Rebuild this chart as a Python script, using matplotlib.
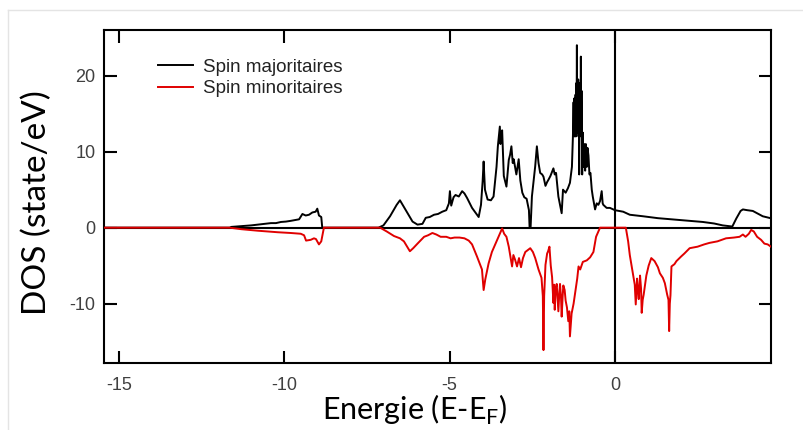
import numpy as np
import matplotlib
matplotlib.use("Agg")
import matplotlib.pyplot as plt
from matplotlib.lines import Line2D

plt.rcParams["axes.unicode_minus"] = False

# Spin majoritaires (E - E_F, DOS)
maj_e = [-15.5, -11.65, -11.6, -11.0, -10.4, -10.25, -10.1, -9.95, -9.8, -9.55, -9.45,
         -9.35, -9.25, -9.15, -9.05, -9.0, -8.95, -8.88, -8.85, -7.15, -7.0, -6.8,
         -6.6, -6.5, -6.35, -6.12, -5.97, -5.82, -5.72, -5.6, -5.47, -5.35, -5.22,
         -5.1, -5.02, -4.99, -4.95, -4.88, -4.82, -4.72, -4.62, -4.55, -4.47, -4.32,
         -4.12, -4.05, -4.0, -3.97, -3.93, -3.85, -3.75, -3.67, -3.58, -3.54, -3.5,
         -3.48, -3.46, -3.44, -3.41, -3.38, -3.36, -3.28, -3.21, -3.17, -3.13, -3.09,
         -3.06, -3.0, -2.98, -2.91, -2.86, -2.8, -2.74, -2.67, -2.6, -2.58, -2.55,
         -2.51, -2.41, -2.36, -2.31, -2.26, -2.2, -2.16, -2.1, -2.05, -2.01, -1.95,
         -1.86, -1.82, -1.78, -1.71, -1.61, -1.57, -1.49, -1.42, -1.36, -1.3, -1.27,
         -1.25, -1.24, -1.23, -1.22, -1.21, -1.2, -1.19, -1.18, -1.17, -1.16, -1.15,
         -1.14, -1.13, -1.12, -1.11, -1.1, -1.09, -1.08, -1.07, -1.06, -1.05, -1.04,
         -1.03, -1.02, -1.01, -1.0, -0.99, -0.97, -0.95, -0.93, -0.9, -0.88, -0.85,
         -0.83, -0.8, -0.77, -0.74, -0.7, -0.67, -0.6, -0.55, -0.5, -0.45, -0.4, -0.37,
         -0.35, -0.25, -0.15, 0.0, 0.25, 0.45, 0.65, 0.85, 1.3, 1.86, 2.3, 2.66,
         3.0, 3.26, 3.55, 3.67, 3.8, 3.87, 4.0, 4.17, 4.3, 4.47, 4.75]
maj_dos = [0, 0, 0.1, 0.3, 0.6, 0.6, 0.75, 0.8, 0.9, 1.1, 1.8,
           1.6, 1.7, 2.0, 2.1, 2.5, 1.6, 1.4, 0, 0, 0.3, 1.5,
           3.0, 3.6, 2.5, 0.8, 0.4, 0.5, 1.3, 1.4, 1.7, 1.8, 2.1,
           2.3, 3.2, 4.8, 2.9, 4.0, 4.3, 4.1, 4.8, 4.5, 3.9, 2.6,
           1.4, 3.0, 6.1, 8.7, 5.0, 3.7, 3.6, 4.1, 8.0, 10.7, 12.5,
           13.3, 11.0, 12.0, 12.8, 9.0, 6.8, 5.4, 8.9, 9.6, 10.7, 8.5,
           9.0, 7.5, 7.0, 9.0, 6.2, 4.6, 4.0, 3.8, 2.3, 0, 0,
           4.1, 8.1, 10.7, 8.5, 7.2, 7.0, 6.7, 5.5, 6.0, 6.3, 6.8,
           7.8, 7.0, 7.2, 4.1, 1.9, 5.0, 4.6, 5.2, 5.9, 8.0, 12.0,
           16.5, 12.5, 17.0, 12.0, 16.5, 12.5, 17.5, 12.0, 19.0, 13.0, 24.0,
           12.5, 19.0, 13.0, 19.5, 12.0, 19.0, 7.0, 19.0, 12.5, 19.0, 13.0,
           22.5, 12.0, 18.0, 12.0, 7.0, 12.5, 8.0, 11.0, 7.5, 11.0, 8.0,
           10.5, 9.5, 7.0, 7.2, 5.0, 4.1, 2.4, 3.2, 3.0, 3.5, 4.8, 3.2,
           3.0, 2.6, 2.6, 2.3, 2.1, 1.7, 1.6, 1.5, 1.25, 1.05, 0.9, 0.75,
           0.55, 0.3, 0.15, 1.2, 2.2, 2.4, 2.3, 2.2, 1.9, 1.5, 1.2]

# Spin minoritaires
min_e = [-15.5, -11.65, -11.3, -10.8, -10.2, -9.8, -9.5, -9.4, -9.34, -9.2, -9.1,
         -9.04, -8.95, -8.88, -8.8, -7.1, -6.9, -6.68, -6.5, -6.38, -6.2, -6.1,
         -5.97, -5.77, -5.65, -5.52, -5.4, -5.27, -5.1, -4.97, -4.85, -4.7, -4.55,
         -4.42, -4.32, -4.17, -4.02, -3.97, -3.92, -3.82, -3.72, -3.61, -3.5, -3.41,
         -3.35, -3.28, -3.21, -3.11, -3.07, -3.02, -2.96, -2.9, -2.84, -2.78, -2.71,
         -2.62, -2.56, -2.48, -2.41, -2.31, -2.22, -2.18, -2.16, -2.14, -2.1, -2.05,
         -2.02, -1.98, -1.94, -1.9, -1.86, -1.84, -1.82, -1.79, -1.76, -1.73, -1.71,
         -1.68, -1.66, -1.63, -1.61, -1.58, -1.56, -1.52, -1.49, -1.45, -1.41, -1.38,
         -1.36, -1.33, -1.31, -1.25, -1.2, -1.14, -1.1, -1.05, -0.97, -0.85, -0.75,
         -0.65, -0.57, -0.45, 0.33, 0.4, 0.45, 0.55, 0.6, 0.63, 0.67, 0.7, 0.72,
         0.76, 0.79, 0.81, 0.84, 0.87, 0.95, 1.02, 1.1, 1.2, 1.3, 1.36, 1.45, 1.51,
         1.58, 1.62, 1.64, 1.66, 1.68, 1.71, 1.8, 1.86, 2.0, 2.1, 2.26, 2.5, 2.7,
         2.86, 3.1, 3.36, 3.6, 3.77, 3.87, 3.95, 4.05, 4.12, 4.2, 4.3, 4.42, 4.52,
         4.62, 4.75]
min_dos = [0, 0, -0.2, -0.4, -0.6, -0.7, -0.8, -1.0, -1.7, -1.6, -1.4,
           -1.5, -2.2, -1.8, 0, 0, -0.5, -1.1, -1.4, -1.8, -3.1, -2.7,
           -2.1, -1.2, -1.0, -0.7, -0.9, -1.2, -1.2, -1.4, -1.3, -1.3, -1.4,
           -1.7, -2.2, -3.8, -5.5, -8.2, -6.8, -4.7, -3.2, -2.1, -1.0, -0.1,
           -0.8, -1.2, -2.5, -5.1, -3.6, -4.2, -5.1, -4.0, -5.2, -4.0, -3.2,
           -2.9, -2.7, -3.2, -4.0, -5.5, -6.6, -9.0, -16.1, -9.0, -4.9, -3.4,
           -3.1, -2.5, -5.0, -6.5, -9.9, -7.5, -10.8, -8.0, -7.4, -9.5, -11.0,
           -8.5, -7.4, -9.2, -11.7, -9.0, -7.6, -8.2, -9.6, -10.5, -12.3, -11.0,
           -14.3, -12.5, -11.3, -10.0, -8.5, -6.7, -5.1, -5.5, -4.5, -4.3, -3.9,
           -3.2, -1.2, 0, 0, -1.8, -3.6, -6.2, -7.5, -10.1, -6.7, -8.5, -9.4,
           -6.3, -8.0, -11.2, -9.5, -8.8, -6.3, -5.0, -4.0, -4.4, -5.2, -6.0, -6.6, -7.3,
           -8.8, -9.5, -13.6, -10.0, -8.9, -5.1, -4.8, -4.4, -3.8, -3.4, -2.7, -2.5, -2.2,
           -2.0, -1.8, -1.4, -1.3, -1.2, -0.9, -1.2, -0.8, -0.3, -0.5, -1.2, -1.6, -2.1,
           -2.2, -2.6]

xticks = [-15, -10, -5, 0]
yticks = [-10, 0, 10, 20]

fig = plt.figure(figsize=(8.04, 4.30), dpi=100)
ax = fig.add_axes([104 / 804, 67 / 430, 667 / 804, 333 / 430])

ax.axhline(0, color="black", lw=1.5, zorder=1)
ax.axvline(0, color="black", lw=1.5, zorder=1)
ax.plot(maj_e, maj_dos, color="black", lw=1.4, label="Spin majoritaires", zorder=2)
ax.plot(min_e, min_dos, color="#e00000", lw=1.4, label="Spin minoritaires", zorder=3)

ax.set_xlim(-15.45, 4.72)
ax.set_ylim(-17.8, 26)
ax.set_xticks(xticks)
ax.set_yticks(yticks)

for s in ax.spines.values():
    s.set_linewidth(1.5)
ax.tick_params(direction="in", length=9, width=1.5, top=True, right=True,
               labelsize=13, labelcolor="#404040")
ax.tick_params(axis="x", pad=10)
ax.tick_params(axis="y", pad=6)
for lab in ax.get_xticklabels() + ax.get_yticklabels():
    lab.set_family("Liberation Sans")

leg = ax.legend(loc="upper left", bbox_to_anchor=(0.055, 0.965), frameon=False,
                prop={"family": "Liberation Sans", "size": 13.5},
                handlelength=1.9, handletextpad=0.5, labelspacing=0.25)
for t in leg.get_texts():
    t.set_color("#222222")

fig.text(37 / 804, 1 - 203 / 430, "DOS (state/eV)", rotation=90, ha="center",
         va="center", family="Lato", fontsize=24)
fig.text(415 / 804, 1 - 420 / 430, "Energie (E-E$_\\mathregular{F}$)", ha="center",
         va="baseline", family="Lato", fontsize=22)

# faint screenshot border
fig.add_artist(Line2D([8 / 804, 8 / 804], [0, 1 - 10 / 430], color="#e4e4e4", lw=1))
fig.add_artist(Line2D([8 / 804, 1], [1 - 10 / 430, 1 - 10 / 430], color="#e4e4e4", lw=1))

fig.savefig("out.png", dpi=100)
